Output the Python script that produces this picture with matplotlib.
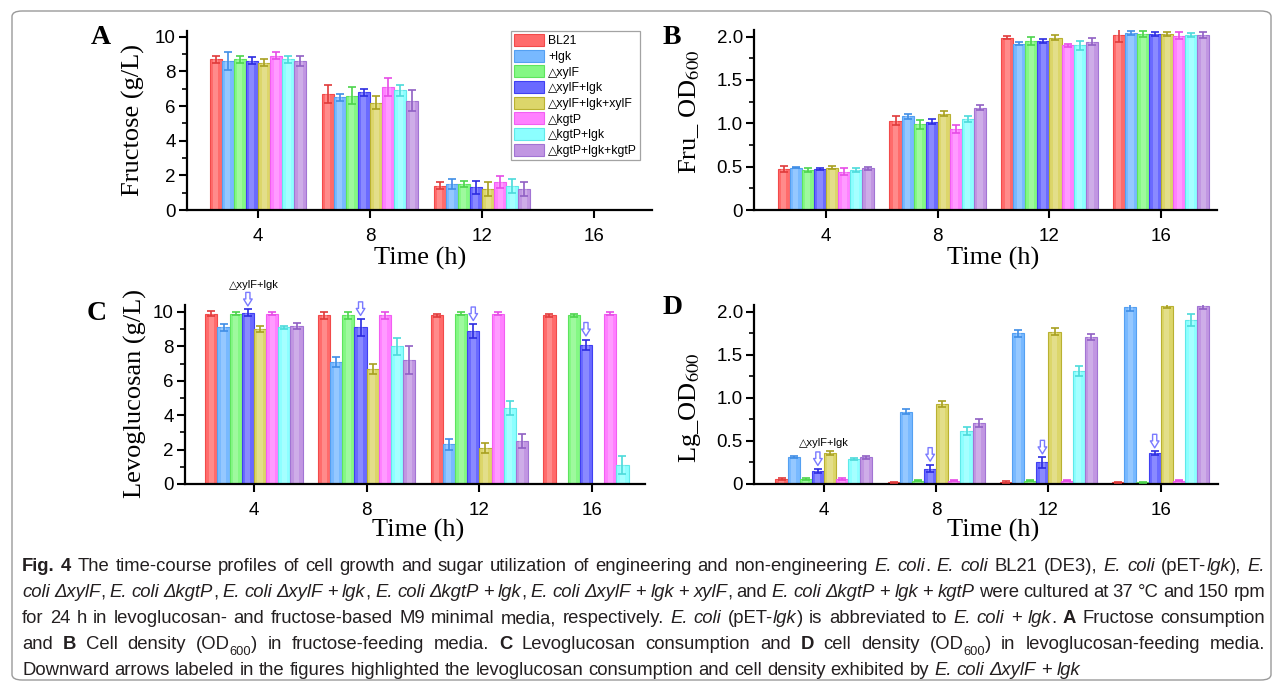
import numpy as np
import matplotlib
matplotlib.use('Agg')
import matplotlib.pyplot as plt
from matplotlib.patches import FancyBboxPatch
from matplotlib.ticker import MultipleLocator, FuncFormatter
from matplotlib import font_manager as fm

plt.rcParams['font.family'] = ['Liberation Sans', 'DejaVu Sans']
plt.rcParams['mathtext.fontset'] = 'stix'

W, H = 1282, 687

# ---------------- data ----------------
times = ['4', '8', '12', '16']
strains = ['BL21', '+lgk', '\u25b3xylF', '\u25b3xylF+lgk', '\u25b3xylF+lgk+xylF',
           '\u25b3kgtP', '\u25b3kgtP+lgk', '\u25b3kgtP+lgk+kgtP']

# rows: strains (order above); columns: 4, 8, 12, 16 h
fru_mean = [[8.7, 6.7, 1.4, 0], [8.6, 6.5, 1.5, 0], [8.7, 6.6, 1.5, 0], [8.6, 6.8, 1.3, 0],
            [8.5, 6.2, 1.2, 0], [8.9, 7.1, 1.6, 0], [8.7, 6.9, 1.4, 0], [8.6, 6.3, 1.2, 0]]
fru_err = [[0.2, 0.5, 0.2, 0], [0.5, 0.2, 0.3, 0], [0.2, 0.5, 0.2, 0], [0.2, 0.2, 0.4, 0],
           [0.2, 0.4, 0.4, 0], [0.2, 0.5, 0.35, 0], [0.2, 0.3, 0.4, 0], [0.3, 0.6, 0.4, 0]]

fruod_mean = [[0.47, 1.03, 1.99, 2.02], [0.49, 1.08, 1.92, 2.04], [0.46, 0.99, 1.95, 2.03],
              [0.47, 1.02, 1.95, 2.03], [0.49, 1.11, 1.99, 2.03], [0.44, 0.93, 1.90, 2.01],
              [0.46, 1.05, 1.90, 2.02], [0.48, 1.18, 1.94, 2.02]]
fruod_err = [[0.035, 0.05, 0.02, 0.08], [0.01, 0.03, 0.02, 0.02], [0.02, 0.05, 0.05, 0.03],
             [0.01, 0.03, 0.02, 0.02], [0.015, 0.03, 0.03, 0.02], [0.04, 0.045, 0.015, 0.04],
             [0.02, 0.03, 0.05, 0.02], [0.02, 0.03, 0.04, 0.03]]

lg_mean = [[9.9, 9.8, 9.8, 9.8], [9.1, 7.1, 2.3, 0], [9.9, 9.8, 9.9, 9.8], [9.95, 9.1, 8.9, 8.1],
           [9.0, 6.7, 2.1, 0], [9.9, 9.8, 9.9, 9.9], [9.1, 8.0, 4.4, 1.1], [9.2, 7.2, 2.5, 0]]
lg_err = [[0.15, 0.2, 0.1, 0.1], [0.2, 0.3, 0.3, 0], [0.1, 0.2, 0.1, 0.1], [0.2, 0.5, 0.4, 0.3],
          [0.17, 0.3, 0.3, 0], [0.1, 0.2, 0.1, 0.1], [0.1, 0.5, 0.4, 0.5], [0.17, 0.8, 0.4, 0]]

lgod_mean = [[0.06, 0.02, 0.025, 0.02], [0.31, 0.84, 1.75, 2.06], [0.06, 0.04, 0.04, 0.02],
             [0.15, 0.18, 0.25, 0.36], [0.36, 0.93, 1.77, 2.07], [0.06, 0.04, 0.04, 0.04],
             [0.29, 0.62, 1.31, 1.91], [0.31, 0.71, 1.71, 2.07]]
lgod_err = [[0.01, 0.005, 0.008, 0.005], [0.01, 0.03, 0.04, 0.05], [0.01, 0.005, 0.008, 0.005],
            [0.025, 0.045, 0.06, 0.02], [0.025, 0.04, 0.04, 0.02], [0.015, 0.008, 0.008, 0.008],
            [0.01, 0.045, 0.06, 0.07], [0.02, 0.045, 0.03, 0.04]]

arrow_label = '\u25b3xylF+lgk'

bar_colors = ['#ff6b6b', '#78b9ff', '#84f884', '#6a6aff', '#dcd66a', '#ff80ff', '#8cffff', '#c196e2']
edge_colors = ['#f24a4a', '#54a0f2', '#5ee45e', '#4040f2', '#b9b131', '#f25ef2', '#5fe9e9', '#a274d4']
err_colors = ['#e03a3a', '#3f8ee6', '#4cd44c', '#2c2ce0', '#a8a020', '#e64ce6', '#4cdada', '#9060c4']

# ---------------- figure ----------------
fig = plt.figure(figsize=(W / 100, H / 100), dpi=100)
fig.patch.set_facecolor('white')

border = FancyBboxPatch((12 / W, 7 / H), 1 - 23 / W, 1 - 18 / H,
                        boxstyle='round,pad=0,rounding_size=0.008',
                        transform=fig.transFigure, fc='white', ec='#9a9a9a', lw=1.0, zorder=-10)
fig.patches.append(border)


def axes_px(left, right, y_zero, y_top):
    return fig.add_axes([left / W, 1 - y_zero / H, (right - left) / W, (y_zero - y_top) / H])


bw = 0.108
xpos = np.arange(len(times))
serif = ['Liberation Serif', 'DejaVu Serif']


def panel(ax, mean, err, xlim, ylim, major, minor, fmt):
    conts = []
    for i in range(len(strains)):
        x = xpos + (i - 3.5) * bw
        m = np.array(mean[i], float)
        e = np.array(err[i], float)
        c = ax.bar(x, m, width=bw, color=bar_colors[i], edgecolor=edge_colors[i],
                   linewidth=0.8, label=strains[i], zorder=2)
        conts.append(c)
        ax.bar(x, m, width=bw * 0.42, color='white', alpha=0.22, linewidth=0, zorder=2.5)
        ok = e > 0
        ax.errorbar(x[ok], m[ok], yerr=e[ok], fmt='none', ecolor=err_colors[i],
                    elinewidth=1.2, capsize=3.2, capthick=1.2, zorder=3)
    ax.set_xlim(*xlim)
    ax.set_ylim(*ylim)
    ax.set_xticks(xpos)
    ax.set_xticklabels(times)
    ax.yaxis.set_major_locator(MultipleLocator(major))
    ax.yaxis.set_minor_locator(MultipleLocator(minor))
    ax.yaxis.set_major_formatter(FuncFormatter(fmt))
    for s in ['top', 'right']:
        ax.spines[s].set_visible(False)
    for s in ['left', 'bottom']:
        ax.spines[s].set_linewidth(1.6)
    ax.tick_params(axis='both', which='major', direction='out', length=6, width=1.5,
                   labelsize=13.5)
    ax.tick_params(axis='y', which='major', pad=2)
    ax.tick_params(axis='x', which='major', pad=7)
    ax.tick_params(axis='y', which='minor', direction='out', length=3.5, width=1.2)
    ax.patch.set_alpha(0)
    return conts


def fmt_int(v, p):
    return '%d' % round(v)


def fmt_od(v, p):
    return '0' if abs(v) < 1e-9 else '%.1f' % v


axA = axes_px(187, 652, 210, 31.5)
contsA = panel(axA, fru_mean, fru_err, (-0.634, 3.518), (0, 10.3), 2, 1, fmt_int)
axB = axes_px(754, 1217, 210, 29.7)
panel(axB, fruod_mean, fruod_err, (-0.645, 3.50), (0, 2.08), 0.5, 0.25, fmt_od)
axC = axes_px(185, 645, 484, 305.1)
panel(axC, lg_mean, lg_err, (-0.612, 3.47), (0, 10.4), 2, 1, fmt_int)
axD = axes_px(754, 1218, 484, 305.1)
panel(axD, lgod_mean, lgod_err, (-0.623, 3.51), (0, 2.08), 0.5, 0.25, fmt_od)

# legend
leg = axA.legend(handles=contsA, loc='upper left', bbox_to_anchor=(511 / W, 1 - 31 / H),
                 bbox_transform=fig.transFigure, borderaxespad=0, frameon=True, fancybox=False,
                 edgecolor='#8c8c8c', fontsize=8.8, handlelength=2.45, handleheight=1.15,
                 labelspacing=0.2, handletextpad=0.35, borderpad=0.25)
leg.get_frame().set_linewidth(0.9)

# arrows over the deltaxylF+lgk bars
ad = dict(arrowstyle='simple,head_length=0.5,head_width=0.62,tail_width=0.3',
          fc='white', ec='#7a7aff', lw=1.0, shrinkA=0, shrinkB=2.5, mutation_scale=10)
for ax, mean, err in [(axC, lg_mean, lg_err), (axD, lgod_mean, lgod_err)]:
    i = 3
    for j in range(len(times)):
        x = xpos[j] + (i - 3.5) * bw
        top = mean[i][j] + err[i][j]
        ax.annotate('', xy=(x, top), xycoords='data', xytext=(0, 17),
                    textcoords='offset pixels', arrowprops=ad, annotation_clip=False)
axC.text(xpos[0], (484 - 285) / 17.2, arrow_label, ha='center', va='center', fontsize=8,
         clip_on=False)
axD.text(xpos[0], (484 - 443) / 86.0, arrow_label, ha='center', va='center', fontsize=8,
         clip_on=False)

# axis titles
lab = dict(family=serif, fontsize=19, ha='center', va='center')
fig.text(133 / W, 1 - 120 / H, 'Fructose (g/L)', rotation=90, **lab)
fig.text(690 / W, 1 - 112 / H, 'Fru_ OD$_{600}$', rotation=90, **lab)
fig.text(135 / W, 1 - 393 / H, 'Levoglucosan (g/L)', rotation=90, **lab)
fig.text(690 / W, 1 - 408 / H, 'Lg_OD$_{600}$', rotation=90, **lab)
for cx, cy in [(420, 258), (993, 258), (418, 530), (993, 530)]:
    fig.text(cx / W, 1 - cy / H, 'Time (h)', **lab)

pl = dict(family=serif, fontsize=20, weight='bold', ha='center', va='center')
for t, cx, cy in [('A', 101, 38), ('B', 672, 38), ('C', 97, 314), ('D', 673, 308)]:
    fig.text(cx / W, 1 - cy / H, t, **pl)

# ---------------- caption ----------------
cap_lines = [
    [('Fig. 4', 'b'), ('  The time-course profiles of cell growth and sugar utilization of engineering and non-engineering ', 'n'),
     ('E. coli', 'i'), ('. ', 'n'), ('E. coli', 'i'), (' BL21 (DE3), ', 'n'), ('E. coli', 'i'), (' (pET-', 'n'),
     ('lgk', 'i'), ('), ', 'n'), ('E.', 'i')],
    [('coli \u0394xylF', 'i'), (', ', 'n'), ('E. coli \u0394kgtP', 'i'), (', ', 'n'), ('E. coli \u0394xylF', 'i'),
     (' + ', 'n'), ('lgk', 'i'), (', ', 'n'), ('E. coli \u0394kgtP', 'i'), (' + ', 'n'), ('lgk', 'i'), (', ', 'n'),
     ('E. coli \u0394xylF', 'i'), (' + ', 'n'), ('lgk', 'i'), (' + ', 'n'), ('xylF', 'i'), (', and ', 'n'),
     ('E. coli \u0394kgtP', 'i'), (' + ', 'n'), ('lgk', 'i'), (' + ', 'n'), ('kgtP', 'i'),
     (' were cultured at 37 \u00b0C and 150 rpm', 'n')],
    [('for 24 h in levoglucosan- and fructose-based M9 minimal media, respectively. ', 'n'), ('E. coli', 'i'),
     (' (pET-', 'n'), ('lgk', 'i'), (') is abbreviated to ', 'n'), ('E. coli', 'i'), (' + ', 'n'), ('lgk', 'i'),
     ('. ', 'n'), ('A', 'b'), (' Fructose consumption', 'n')],
    [('and ', 'n'), ('B', 'b'), (' Cell density (OD', 'n'), ('600', 's'), (') in fructose-feeding media. ', 'n'),
     ('C', 'b'), (' Levoglucosan consumption and ', 'n'), ('D', 'b'), (' cell density (OD', 'n'), ('600', 's'),
     (') in levoglucosan-feeding media.', 'n')],
    [('Downward arrows labeled in the figures highlighted the levoglucosan consumption and cell density exhibited by ', 'n'),
     ('E. coli \u0394xylF', 'i'), (' + ', 'n'), ('lgk', 'i')],
]
cap_justify = [True, True, True, True, False]
cap_baselines = [571, 597, 623, 649, 675]
cap_left, cap_right = 22, 1265

_names = {f.name for f in fm.fontManager.ttflist}
if 'Liberation Sans Narrow' in _names:
    cap_family = ['Liberation Sans Narrow', 'DejaVu Sans']
else:
    cap_family = ['Liberation Sans', 'DejaVu Sans']

renderer = fig.canvas.get_renderer()


def words_of(segs):
    words = [[]]
    for text, st in segs:
        parts = text.split(' ')
        for k, p in enumerate(parts):
            if k > 0 and words[-1]:
                words.append([])
            if p:
                words[-1].append((p, st))
    return [w for w in words if w]


def mk(s, st, size, x=0, y=0):
    kw = dict(fontsize=size, family=cap_family, color='#231f20', va='baseline', ha='left')
    if st == 'i':
        kw['style'] = 'italic'
    if st == 'b':
        kw['weight'] = 'bold'
    if st == 's':
        kw['fontsize'] = size * 0.7
    return fig.text(x, y, s, **kw)


def width(s, st, size):
    t = mk(s, st, size)
    w = t.get_window_extent(renderer).width
    t.remove()
    return w


def space_w(size):
    return width('x x', 'n', size) - width('xx', 'n', size)


# fit font size so the first line fits naturally
size0 = 10.0
w1 = words_of(cap_lines[0])
nat = sum(width(p, st, size0) for w in w1 for p, st in w) + space_w(size0) * (len(w1) - 1)
cap_size = size0 * (cap_right - cap_left) * 0.985 / nat

for segs, just, base in zip(cap_lines, cap_justify, cap_baselines):
    words = words_of(segs)
    wl = [[width(p, st, cap_size) for p, st in w] for w in words]
    total = sum(sum(a) for a in wl)
    if just:
        gap = (cap_right - cap_left - total) / (len(words) - 1)
    else:
        gap = space_w(cap_size)
    x = cap_left
    for w, ws in zip(words, wl):
        for (p, st), pw in zip(w, ws):
            yy = base + (cap_size * 0.35 * 100 / 72 if st == 's' else 0)
            mk(p, st, cap_size, x / W, 1 - yy / H)
            x += pw
        x += gap

fig.savefig('out.png', dpi=100)
